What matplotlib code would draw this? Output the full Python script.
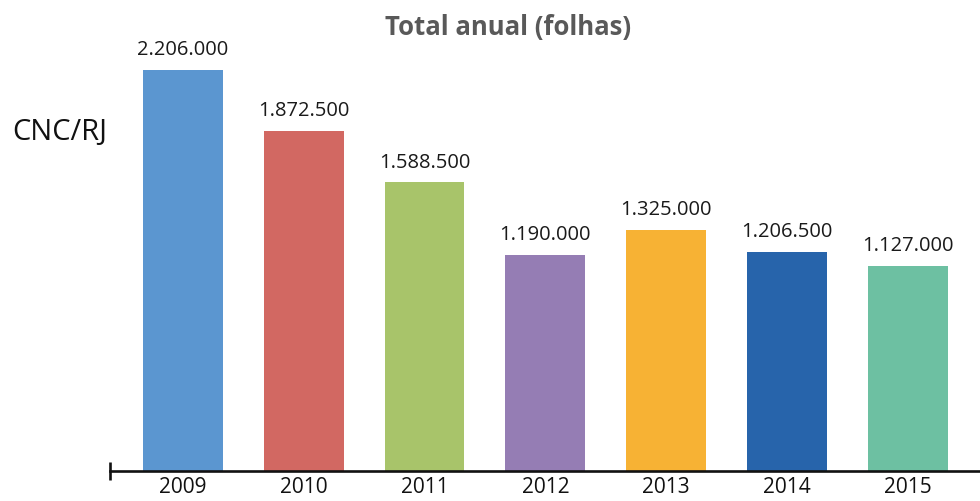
import matplotlib.pyplot as plt
import numpy as np

plt.rcParams['font.family'] = ['Open Sans', 'DejaVu Sans']

years = ["2009", "2010", "2011", "2012", "2013", "2014", "2015"]
totals = [2206000, 1872500, 1588500, 1190000, 1325000, 1206500, 1127000]
colors = ["#5B96D0", "#D26862", "#A8C46A", "#957DB4", "#F7B234", "#2764AB", "#6DC0A2"]


def fmt_br(v):
    """Format with dots as thousand separators."""
    return f"{v:,}".replace(",", ".")


fig = plt.figure(figsize=(9.8, 5.01), dpi=100)
ax = fig.add_axes([110 / 980, 30 / 501, 870 / 980, 471 / 501])

x = np.arange(len(years))
ax.bar(x, totals, width=0.66, color=colors)

for xi, v in zip(x, totals):
    ax.annotate(fmt_br(v), (xi, v), xytext=(0, 7), textcoords="offset points",
                ha="center", va="bottom", fontsize=14.5, color="#1a1a1a")

ax.set_xlim(-0.604, 6.598)
ax.set_ylim(0, 2591000)

for s in ["top", "right", "left"]:
    ax.spines[s].set_visible(False)
ax.spines["bottom"].set_linewidth(1.9)
ax.spines["bottom"].set_color("#111111")

ax.set_yticks([])
ax.set_xticks(x)
ax.set_xticklabels(years, fontsize=15, color="#111111")
ax.tick_params(axis="x", which="major", length=0, pad=4)
ax.set_xticks([-0.604], minor=True)
ax.tick_params(axis="x", which="minor", length=13, width=1.9, direction="inout",
               color="#111111")

fig.text(508 / 980, 1 - 27 / 501, "Total anual (folhas)", ha="center", va="center",
         fontsize=18.5, fontweight="bold", color="#595959")
fig.text(12 / 980, 1 - 132 / 501, "CNC/RJ", ha="left", va="center",
         fontsize=21, color="#111111")

fig.savefig("out.png", dpi=100)
